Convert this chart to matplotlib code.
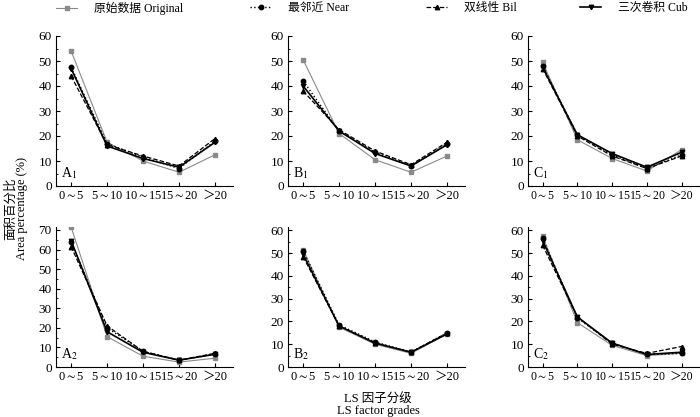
import matplotlib
matplotlib.use("Agg")
import matplotlib.pyplot as plt
import numpy as np

plt.rcParams['font.family'] = ['Liberation Serif', 'Noto Sans CJK SC', 'DejaVu Sans']
plt.rcParams['mathtext.fontset'] = 'stix'
plt.rcParams['font.size'] = 9.5

grades = ['0$\\sim$5', '5$\\sim$10', '10$\\sim$15', '15$\\sim$20', '＞20']
panels = ['A$_1$', 'B$_1$', 'C$_1$', 'A$_2$', 'B$_2$', 'C$_2$']

# area percentage per panel: original, nearest, bilinear, cubic
original = [[54, 17.5, 10, 5.5, 12.5],
            [50.5, 21, 10.5, 5.5, 12],
            [49.5, 18.5, 11, 6, 14.5],
            [71.5, 15.5, 5.5, 2.5, 4.5],
            [51.5, 17.5, 10, 6, 14.5],
            [57.5, 19.5, 9.5, 5, 6]]
near = [[47.5, 17, 11.5, 7, 18],
        [42, 22, 13.5, 8, 17],
        [48, 20.5, 12.5, 7, 12.5],
        [64, 20, 8, 3.5, 6.5],
        [51, 18.5, 11, 6.5, 15],
        [56.5, 21.5, 10.5, 5.5, 6]]
bil = [[44, 16.5, 12, 8, 19],
       [38, 22.5, 14, 8.5, 17.5],
       [47, 20, 12, 7, 12],
       [61.5, 21, 8, 3.5, 7],
       [48.5, 18, 10.5, 6.5, 15],
       [53.5, 22, 10, 6, 9]]
cub = [[47, 16, 11, 7.5, 17.5],
       [40, 22, 13, 8, 16.5],
       [47.5, 20.5, 13, 7.5, 13.5],
       [64.5, 18, 7.5, 3.5, 6.5],
       [49.5, 18, 10.5, 6.5, 14.5],
       [55.5, 22, 10.5, 5.5, 6.5]]
ytops = [60, 60, 60, 70, 60, 60]

styles = [
    dict(label='原始数据 Original', color='#8a8a8a', ls='-', marker='s', lw=0.8),
    dict(label='最邻近 Near', color='black', ls=':', marker='o', lw=1.0),
    dict(label='双线性 Bil', color='black', ls='--', marker='^', lw=0.9),
    dict(label='三次卷积 Cub', color='black', ls='-', marker='v', lw=1.2),
]
legend_x = [56, 250, 426, 580]

fig = plt.figure(figsize=(7, 4.17), dpi=100)
lefts = [56 / 700, 288 / 700, 528 / 700]
widths = [177 / 700, 177 / 700, 171 / 700]
rows = [(1 - 186 / 417, 150 / 417), (1 - 367 / 417, 140 / 417)]

x = np.arange(len(grades))
handles = []
for i in range(6):
    r, c = divmod(i, 3)
    ax = fig.add_axes([lefts[c], rows[r][0], widths[c], rows[r][1]])
    for data, st in zip([original[i], near[i], bil[i], cub[i]], styles):
        h, = ax.plot(x, data, color=st['color'], ls=st['ls'], lw=st['lw'],
                     marker=st['marker'], ms=3.2, mfc=st['color'], mec=st['color'],
                     label=st['label'])
        if i == 0:
            handles.append(h)
    ax.set_xlim(-0.42, 4.5)
    top = ytops[i]
    ax.set_ylim(0, top + (0 if r == 0 else 1.5))
    ax.set_yticks(np.arange(0, top + 1, 10))
    ax.set_yticks(np.arange(5, top + 1, 10), minor=True)
    ax.set_xticks(x)
    ax.set_xticklabels(grades, fontsize=9 if c < 2 else 8.5)
    ax.spines['top'].set_visible(False)
    ax.spines['right'].set_visible(False)
    ax.tick_params(direction='in', length=3, width=0.8, pad=3)
    ax.tick_params(which='minor', direction='in', length=1.5, width=0.6)
    ax.text(0.03, 0.06, panels[i], transform=ax.transAxes, fontsize=10)

# one legend per entry so the gaps follow the reference
for h, lx in zip(handles, legend_x):
    fig.legend(handles=[h], loc='center left', frameon=False,
               bbox_to_anchor=(lx / 700, 1 - 8 / 417), borderpad=0,
               borderaxespad=0, handlelength=1.8, handletextpad=1.4,
               fontsize=8.5)

fig.text(11 / 700, 1 - 209 / 417, '面积百分比', rotation=90, ha='center', va='center', fontsize=9)
fig.text(22 / 700, 1 - 209 / 417, 'Area percentage (%)', rotation=90, ha='center', va='center', fontsize=9)
fig.text(378 / 700, 1 - 400 / 417, 'LS 因子分级', ha='center', va='center', fontsize=9)
fig.text(378 / 700, 1 - 411 / 417, 'LS factor grades', ha='center', va='center', fontsize=9)

fig.savefig('out.png', dpi=100)
